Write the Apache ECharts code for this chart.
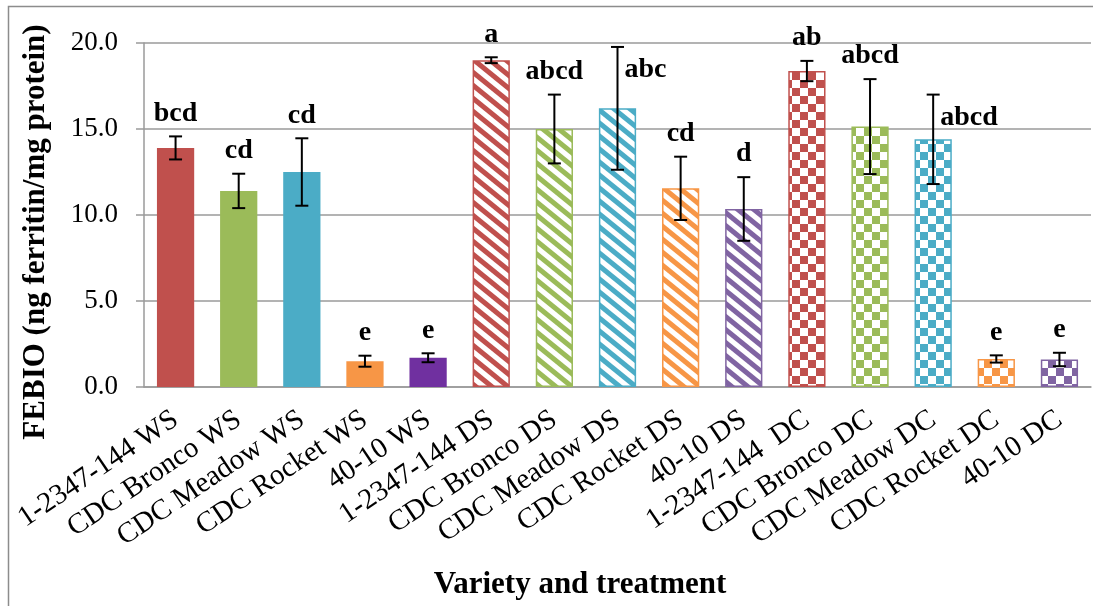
<!DOCTYPE html>
<html>
<head>
<meta charset="utf-8">
<script src="https://cdn.jsdelivr.net/npm/echarts@6/dist/echarts.min.js"></script>
<style>
html,body{margin:0;padding:0;background:#fff;}
#chart{width:1093px;height:606px;}
</style>
</head>
<body>
<div id="chart"></div>
<script>
// ---- data ----
const categories = ['1-2347-144 WS','CDC Bronco WS','CDC Meadow WS','CDC Rocket WS','40-10 WS',
  '1-2347-144 DS','CDC Bronco DS','CDC Meadow DS','CDC Rocket DS','40-10 DS',
  '1-2347-144  DC','CDC Bronco DC','CDC Meadow DC','CDC Rocket DC','40-10 DC'];
const means  = [13.9, 11.4, 12.5, 1.5, 1.7, 19.0, 15.0, 16.2, 11.55, 10.35, 18.37, 15.14, 14.4, 1.63, 1.6];
const errors = [0.67, 1.0, 1.96, 0.32, 0.26, 0.17, 2.0, 3.57, 1.84, 1.85, 0.59, 2.76, 2.6, 0.21, 0.39];
const letters = ['bcd','cd','cd','e','e','a','abcd','abc','cd','d','ab','abcd','abcd','e','e'];
const yAxisTitle = 'FEBIO (ng ferritin/mg protein)';
const xAxisTitle = 'Variety and treatment';

// ---- styles ----
const solidColors   = ['#C0504D','#9BBB59','#4BACC6','#F79646','#7030A0'];
const patternColors = ['#C0504D','#9BBB59','#4BACC6','#F79646','#8064A2'];
const rightLabelIdx = [7, 12];
const serif = 'Liberation Serif';

function stripeTile(color){
  const w = 16, h = 13;
  const c = document.createElement('canvas');
  c.width = w; c.height = h;
  const g = c.getContext('2d');
  g.fillStyle = '#fff'; g.fillRect(0,0,w,h);
  g.strokeStyle = color; g.lineWidth = 5;
  for (let k = -2; k <= 2; k++) {
    g.beginPath();
    g.moveTo(-w, -h + k*h);
    g.lineTo(2*w, 2*h + k*h);
    g.stroke();
  }
  return c;
}
function checkTile(color){
  const s = 8;
  const c = document.createElement('canvas');
  c.width = 2*s; c.height = 2*s;
  const g = c.getContext('2d');
  g.fillStyle = '#fff'; g.fillRect(0,0,2*s,2*s);
  g.fillStyle = color;
  g.fillRect(0,0,s,s); g.fillRect(s,s,s,s);
  return c;
}

const barData = means.map((v, i) => {
  const cat = categories[i];
  const k = i % 5;
  if (/WS$/.test(cat)) {
    return { value: v, itemStyle: { color: solidColors[k] } };
  }
  const col = patternColors[k];
  const tile = /DS$/.test(cat) ? stripeTile(col) : checkTile(col);
  return { value: v, itemStyle: { color: { image: tile, repeat: 'repeat' }, borderColor: col, borderWidth: 1.5 } };
});

const errData = means.map((v, i) => [i, v - errors[i], v + errors[i], v]);

const labelStyle = (txt, align, va) => ({
  text: txt, fontFamily: serif, fontWeight: 'bold', fontSize: 28, fill: '#000', align: align, verticalAlign: va
});

const chart = echarts.init(document.getElementById('chart'), null, { renderer: 'canvas' });
chart.setOption({
  animation: false,
  backgroundColor: '#fff',
  grid: { left: 144, right: 2, top: 43, bottom: 219, containLabel: false },
  xAxis: {
    type: 'category',
    data: categories,
    axisLine: { show: true, lineStyle: { color: '#9a9a9a', width: 1.5 } },
    axisTick: { show: false },
    axisLabel: { interval: 0, rotate: 34, margin: 30, color: '#000', fontFamily: serif, fontSize: 29 },
    splitLine: { show: false }
  },
  yAxis: {
    type: 'value',
    min: 0, max: 20, interval: 5,
    axisLine: { show: true, lineStyle: { color: '#9a9a9a', width: 1.5 } },
    axisTick: { show: true, length: 8, lineStyle: { color: '#9a9a9a', width: 1.5 } },
    axisLabel: { margin: 26, color: '#000', fontFamily: serif, fontSize: 27, formatter: v => v.toFixed(1) },
    splitLine: { show: true, lineStyle: { color: '#9a9a9a', width: 1.5 } }
  },
  graphic: [
    { type: 'rect', shape: { x: 8.5, y: 6.5, width: 1200, height: 700 }, style: { fill: null, stroke: '#8c8c8c', lineWidth: 1.5 }, silent: true, z: -1 },
    { type: 'text', x: 36, y: 232, rotation: Math.PI / 2,
      style: { text: yAxisTitle, fontFamily: serif, fontWeight: 'bold', fontSize: 31, fill: '#000', align: 'center', verticalAlign: 'middle' } },
    { type: 'text', x: 580, y: 585,
      style: { text: xAxisTitle, fontFamily: serif, fontWeight: 'bold', fontSize: 31, fill: '#000', align: 'center', verticalAlign: 'middle' } }
  ],
  series: [
    {
      type: 'bar',
      data: barData,
      barCategoryGap: '41%',
      z: 2
    },
    {
      type: 'custom',
      clip: false,
      z: 5,
      encode: { x: 0, y: [1, 2] },
      data: errData,
      renderItem: function (params, api) {
        const i = api.value(0);
        const lo = api.coord([i, api.value(1)]);
        const hi = api.coord([i, api.value(2)]);
        const x = lo[0];
        const cap = 6.5;
        const ls = { stroke: '#000', lineWidth: 2 };
        const right = rightLabelIdx.indexOf(params.dataIndex) >= 0;
        const t = letters[params.dataIndex];
        const txt = right
          ? { type: 'text', x: x + 7, y: hi[1] + 9, style: labelStyle(t, 'left', 'top') }
          : { type: 'text', x: x, y: hi[1] - 9, style: labelStyle(t, 'center', 'bottom') };
        return {
          type: 'group',
          children: [
            { type: 'line', shape: { x1: x, y1: lo[1], x2: x, y2: hi[1] }, style: ls },
            { type: 'line', shape: { x1: x - cap, y1: lo[1], x2: x + cap, y2: lo[1] }, style: ls },
            { type: 'line', shape: { x1: x - cap, y1: hi[1], x2: x + cap, y2: hi[1] }, style: ls },
            txt
          ]
        };
      }
    }
  ]
});
</script>
</body>
</html>
